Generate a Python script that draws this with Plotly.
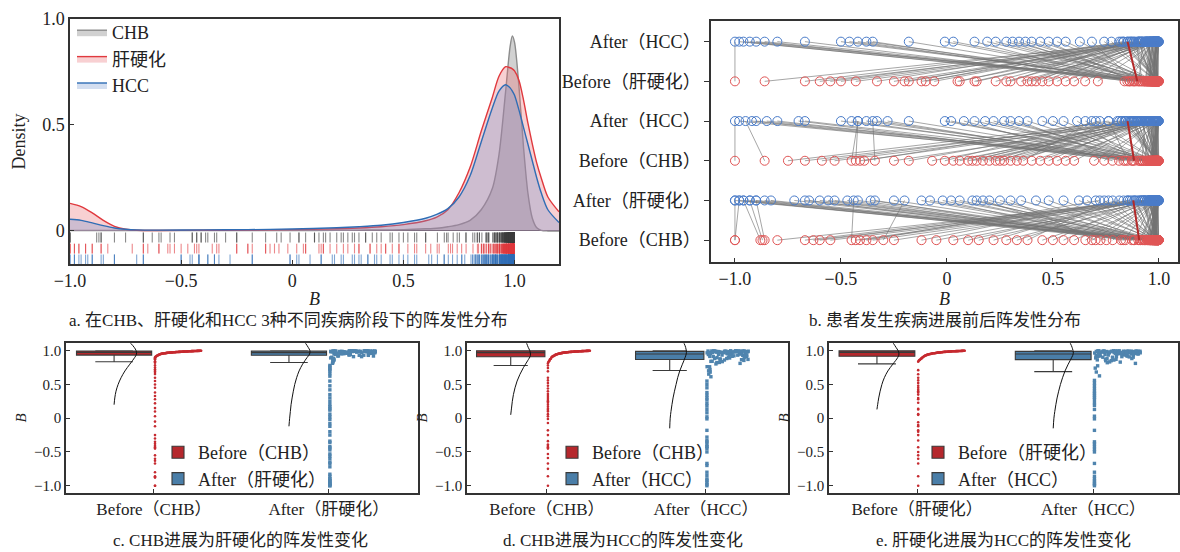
import plotly.graph_objects as go

FONT = "Liberation Serif, Noto Sans CJK SC, serif"

# ---------------- data ----------------
# panel a: density curves
dens_x = [-1.0, -0.95, -0.9, -0.85, -0.8, -0.75, -0.7, -0.6, -0.4, -0.2, 0.0, 0.2, 0.3, 0.4, 0.5,
          0.6, 0.65, 0.7, 0.75, 0.8, 0.85, 0.9, 0.93, 0.96, 0.98, 0.99, 1.0, 1.02, 1.04, 1.06,
          1.08, 1.1, 1.12, 1.15, 1.2]
dens_chb = [0.002, 0.002, 0.002, 0.002, 0.002, 0.002, 0.002, 0.002, 0.002, 0.002, 0.002, 0.003, 0.004,
            0.005, 0.006, 0.01, 0.013, 0.02, 0.03, 0.05, 0.1, 0.2, 0.36, 0.66, 0.87, 0.92, 0.89,
            0.68, 0.4, 0.18, 0.06, 0.015, 0.003, 0.0, 0.0]
dens_lc = [0.13, 0.115, 0.085, 0.05, 0.022, 0.008, 0.003, 0.002, 0.003, 0.004, 0.006, 0.01, 0.014,
           0.02, 0.03, 0.048, 0.065, 0.1, 0.18, 0.3, 0.47, 0.63, 0.73, 0.775, 0.77, 0.765, 0.755,
           0.71, 0.62, 0.51, 0.41, 0.32, 0.25, 0.16, 0.09]
dens_hcc = [0.055, 0.05, 0.038, 0.025, 0.014, 0.008, 0.005, 0.004, 0.005, 0.006, 0.009, 0.015, 0.02,
            0.027, 0.04, 0.06, 0.078, 0.105, 0.16, 0.26, 0.42, 0.58, 0.66, 0.69, 0.675, 0.66, 0.64,
            0.57, 0.49, 0.41, 0.33, 0.25, 0.18, 0.1, 0.04]
dens_names = ["CHB", "肝硬化", "HCC"]

# group 1: CHB -> 肝硬化 (paired)
g1_before = [
    -1.00, -1.00, -0.88, -0.87, -0.86, -0.80, -0.67, -0.63, -0.60, -0.55,
    -0.45, -0.43, -0.41, -0.38, -0.35, -0.30, -0.25, -0.12, -0.05, 0.03,
    0.10, 0.15, 0.22, 0.28, 0.33, 0.38, 0.45, 0.50, 0.55, 0.60,
    0.934, 0.972, 0.881, 0.991, 0.953, 0.912, 0.983, 0.962, 0.995, 0.842,
    0.975, 0.931, 0.988, 0.903, 0.966, 0.981, 0.872, 0.993, 0.944, 0.978,
    0.821, 0.996, 0.957, 0.986, 0.925, 0.752, 0.990, 0.969, 0.701, 0.984,
    0.948, 0.997, 0.977,
    0.991, 0.982, 0.999, 0.974, 0.993, 0.962, 0.986, 0.998, 0.989, 0.971,
    0.951, 0.994, 0.979, 0.936, 0.997, 0.988, 0.968, 0.984, 0.958, 0.992,
    0.921, 0.981, 0.999, 0.973, 0.990, 0.884, 0.983, 0.964, 0.996, 0.987,
    0.976, 0.944, 0.994, 0.980, 0.653, 0.998, 0.970, 0.991, 0.961, 0.985,
    0.782, 0.993, 0.972, 0.999, 0.978, 0.955, 0.989, 0.724, 0.982, 0.967,
    0.997, 0.990, 0.959, 0.986, 0.832, 0.995, 0.975, 0.998, 0.979, 0.992,
    0.684, 0.969, 0.988, 0.983, 0.911, 0.996, 0.963, 0.994, 0.981, 0.977]
g1_after = [
    -1.00, -0.98, -0.96, -0.93, -0.90, 0.952, 0.884, 0.973, 0.921, 0.991,
    -0.44, 0.862, 0.934, 0.721, 0.982, -0.20, 0.964, 0.813, 0.945, 0.993,
    0.903, 0.971, 0.853, 0.989, 0.931, 0.762, 0.984, 0.912, 0.956, 0.995,
    -1.00, -0.98, -0.96, -0.93, -0.90, -0.86, -0.83, -0.72, -0.67, -0.65,
    -0.60, -0.56, -0.53, -0.47, -0.42, -0.36, -0.34, -0.25, -0.12, -0.08,
    -0.02, 0.02, 0.06, 0.12, 0.14, 0.17, 0.20, 0.25, 0.30, 0.35,
    0.42, 0.48, 0.55,
    0.974, 0.993, 0.921, 0.998, 0.952, 0.983, 0.884, 0.991, 0.961, 0.997,
    0.989, 0.933, 0.972, 0.995, 0.851, 0.981, 0.999, 0.943, 0.990, 0.623,
    0.984, 0.962, 0.994, 0.893, 0.998, 0.971, 0.782, 0.992, 0.953, 0.986,
    0.997, 0.988, 0.702, 0.975, 0.964, 0.993, 0.924, 0.982, 0.999, 0.661,
    0.991, 0.958, 0.985, 0.912, 0.994, 0.998, 0.973, 0.990, 0.833, 0.979,
    0.951, 0.993, 0.997, 0.968, 0.983, 0.742, 0.992, 0.963, 0.999, 0.981,
    0.990, 0.932, 0.976, 0.996, 0.987, 0.994, 0.872, 0.961, 0.989, 0.978]

# group 2: CHB -> HCC (paired)
g2_before = [
    -1.00, -0.86, -0.75, -0.67, -0.59, -0.53, -0.45, -0.43, -0.41, -0.39,
    -0.34, -0.25, -0.18, -0.07, -0.01, 0.03, 0.06, 0.10, 0.12, 0.14,
    0.17, 0.20, 0.23, 0.25, 0.27, 0.30, 0.33, 0.36, 0.40, 0.44,
    0.48, 0.52, 0.56, 0.60,
    0.952, 0.884, 0.971, 0.993, 0.921, 0.842, 0.964, 0.982, 0.903, 0.991,
    0.943, 0.872, 0.975, 0.994, 0.932, 0.781, 0.986, 0.961, 0.912, 0.997,
    0.954, 0.833, 0.973, 0.989, 0.924, 0.981,
    0.992, 0.981, 0.998, 0.964, 0.987, 0.953, 0.995, 0.976, 0.990, 0.942,
    0.983, 0.997, 0.969, 0.988, 0.921, 0.994, 0.979, 0.999, 0.958, 0.985,
    0.876, 0.991, 0.973, 0.996, 0.947, 0.982, 0.989, 0.812, 0.993, 0.967,
    0.998, 0.978, 0.986, 0.934, 0.995, 0.971, 0.742, 0.990, 0.984, 0.962,
    0.997, 0.975, 0.853, 0.992, 0.980, 0.999, 0.956, 0.987, 0.694, 0.994,
    0.968, 0.983, 0.996, 0.911, 0.989, 0.977, 0.998, 0.944, 0.991, 0.985]
g2_after = [
    -1.00, -0.95, 0.823, 0.931, 0.884, 0.972, -0.42, -0.42, 0.913, 0.762,
    -0.35, 0.991, 0.862, 0.944, 0.721, 0.983, 0.902, 0.954, 0.843, 0.995,
    0.935, 0.871, 0.976, 0.804, 0.962, 0.989, 0.915, 0.683, 0.982, 0.943,
    0.892, 0.994, 0.951, 0.973,
    -0.98, -0.92, -0.90, -0.85, -0.80, -0.70, -0.67, -0.50, -0.45, -0.38,
    -0.33, -0.28, -0.18, -0.01, 0.02, 0.08, 0.13, 0.18, 0.22, 0.27,
    0.30, 0.34, 0.38, 0.45, 0.50, 0.55,
    0.962, 0.991, 0.873, 0.984, 0.947, 0.998, 0.812, 0.973, 0.995, 0.924,
    0.988, 0.856, 0.979, 0.996, 0.934, 0.702, 0.982, 0.951, 0.993, 0.867,
    0.990, 0.941, 0.999, 0.826, 0.975, 0.987, 0.914, 0.994, 0.653, 0.968,
    0.982, 0.897, 0.997, 0.958, 0.842, 0.989, 0.976, 0.931, 0.999, 0.884,
    0.954, 0.992, 0.763, 0.981, 0.945, 0.996, 0.902, 0.972, 0.986, 0.838,
    0.993, 0.917, 0.978, 0.614, 0.988, 0.961, 0.995, 0.879, 0.983, 0.937]

# group 3: 肝硬化 -> HCC (paired)
g3_before = [
    -1.00, -0.86, -0.67, -0.60, -0.55, -0.50, -0.43, -0.33, -0.25, -0.20,
    -0.18, -0.12, -0.10, -0.06, 0.05, 0.06, 0.13, 0.14, 0.23, 0.28,
    0.30, 0.35, 0.38, 0.40, 0.42, 0.45, 0.48, 0.52, 0.56, 0.60,
    0.934, 0.882, 0.971, 0.992, 0.913, 0.953, 0.862, 0.983, 0.962, 0.921,
    0.994, 0.893, 0.974, 0.942, 0.991, 0.851, 0.965, 0.984, 0.931, 0.996,
    0.904, 0.972, 0.951, 0.993, 0.873, 0.981, 0.963,
    0.987, 0.972, 0.995, 0.958, 0.983, 0.991, 0.946, 0.998, 0.979, 0.963,
    0.993, 0.921, 0.986, 0.975, 0.999, 0.952, 0.989, 0.968, 0.884, 0.994,
    0.981, 0.997, 0.961, 0.838, 0.990, 0.977, 0.996, 0.943, 0.985, 0.992,
    0.712, 0.973, 0.998, 0.966, 0.988, 0.931, 0.995, 0.982, 0.906, 0.991,
    0.978, 0.999, 0.955, 0.986, 0.652, 0.993, 0.970, 0.997, 0.984, 0.939,
    0.990, 0.962, 0.994, 0.861, 0.988, 0.976, 0.999, 0.948, 0.992, 0.983]
g3_after = [
    -1.00, 0.943, 0.872, 0.981, 0.912, 0.963, 0.991, 0.834, 0.952, 0.974,
    0.903, 0.993, 0.861, 0.932, 0.984, 0.881, 0.962, 0.995, 0.921, 0.973,
    0.852, 0.992, 0.944, 0.983, 0.904, 0.961, 0.994, 0.933, 0.972, 0.953,
    -0.98, -0.96, -0.93, -0.90, -0.86, -0.80, -0.67, -0.50, -0.46, -0.42,
    -0.38, -0.35, -0.18, -0.01, 0.03, 0.13, 0.19, 0.23, 0.28, 0.31,
    0.34, 0.37, 0.40, 0.44, 0.48, 0.52, 0.56,
    0.943, 0.986, 0.872, 0.997, 0.921, 0.968, 0.993, 0.831, 0.979, 0.954,
    0.999, 0.893, 0.962, 0.988, 0.812, 0.975, 0.946, 0.994, 0.684, 0.983,
    0.912, 0.996, 0.957, 0.979, 0.864, 0.991, 0.935, 0.971, 0.998, 0.742,
    0.987, 0.903, 0.966, 0.993, 0.851, 0.978, 0.949, 0.999, 0.924, 0.982,
    0.627, 0.961, 0.995, 0.884, 0.973, 0.989, 0.938, 0.822, 0.997, 0.956,
    0.981, 0.908, 0.992, 0.969, 0.776, 0.986, 0.941, 0.998, 0.917, 0.975]

# panel b labels (bottom -> top) and group mean lines
pair_ticktext = ["Before（CHB）", "After（肝硬化）", "Before（CHB）", "After（HCC）",
                 "Before（肝硬化）", "After（HCC）"]
mean_before = [0.907, 0.883, 0.898]
mean_after = [0.879, 0.852, 0.852]

# panels c/d/e: box statistics [before, after]
c_q1, c_med, c_q3, c_lo, c_hi = [0.935, 0.932], [0.975, 0.972], [0.995, 0.993], [0.837, 0.825], [1.0, 1.0]
d_q1, d_med, d_q3, d_lo, d_hi = [0.910, 0.870], [0.972, 0.950], [0.998, 0.990], [0.780, 0.706], [1.0, 1.0]
e_q1, e_med, e_q3, e_lo, e_hi = [0.917, 0.868], [0.975, 0.950], [0.998, 0.990], [0.805, 0.690], [1.0, 1.0]

# half-violin outlines (value, half width)
c_vy_b = [0.20, 0.30, 0.40, 0.50, 0.60, 0.70, 0.80, 0.90, 0.95, 1.00, 1.05, 1.11]
c_vw_b = [0.0, 0.004, 0.011, 0.023, 0.040, 0.062, 0.090, 0.118, 0.128, 0.126, 0.115, 0.095]
c_vy_a = [-0.12, 0.0, 0.1, 0.2, 0.3, 0.4, 0.5, 0.6, 0.7, 0.8, 0.9, 0.95, 1.0, 1.05, 1.11]
c_vw_a = [0.0, 0.004, 0.008, 0.012, 0.018, 0.025, 0.033, 0.044, 0.058, 0.078, 0.104, 0.118, 0.12, 0.11, 0.095]
d_vy_b = [0.05, 0.15, 0.25, 0.35, 0.45, 0.55, 0.65, 0.75, 0.85, 0.93, 1.0, 1.05, 1.11]
d_vw_b = [0.0, 0.005, 0.010, 0.017, 0.027, 0.040, 0.058, 0.080, 0.106, 0.124, 0.12, 0.11, 0.10]
d_vy_a = [-0.15, 0.0, 0.1, 0.2, 0.3, 0.4, 0.5, 0.6, 0.7, 0.8, 0.9, 0.97, 1.05, 1.11]
d_vw_a = [0.0, 0.003, 0.008, 0.014, 0.021, 0.030, 0.040, 0.050, 0.063, 0.080, 0.097, 0.105, 0.10, 0.09]
e_vy_b = [0.13, 0.2, 0.3, 0.4, 0.5, 0.6, 0.7, 0.8, 0.9, 0.95, 1.0, 1.05, 1.11]
e_vw_b = [0.0, 0.004, 0.010, 0.018, 0.028, 0.042, 0.062, 0.090, 0.118, 0.125, 0.12, 0.108, 0.093]
e_vy_a = [-0.15, 0.0, 0.1, 0.2, 0.3, 0.4, 0.5, 0.6, 0.7, 0.8, 0.9, 0.96, 1.05, 1.11]
e_vw_a = [0.0, 0.004, 0.009, 0.015, 0.022, 0.031, 0.041, 0.053, 0.067, 0.085, 0.105, 0.114, 0.107, 0.097]

captions = ["a. 在CHB、肝硬化和HCC 3种不同疾病阶段下的阵发性分布",
            "b. 患者发生疾病进展前后阵发性分布",
            "c. CHB进展为肝硬化的阵发性变化",
            "d. CHB进展为HCC的阵发性变化",
            "e. 肝硬化进展为HCC的阵发性变化"]

# ---------------- styling ----------------
C_GRAY_LINE, C_GRAY_FILL = "#8c8c8c", "rgba(140,140,140,0.40)"
C_RED_LINE, C_RED_FILL = "#e0393e", "rgba(232,110,115,0.32)"
C_BLUE_LINE, C_BLUE_FILL = "#2f6db5", "rgba(110,145,205,0.30)"
C_BOX_RED, C_BOX_BLUE = "#b5282d", "#4a7ea8"
C_PT_RED, C_PT_BLUE = "#c62a30", "#4f84ae"

fig = go.Figure()

# ---- panel a: densities ----
for ys, nm, lc, fc in [(dens_chb, dens_names[0], C_GRAY_LINE, C_GRAY_FILL),
                       (dens_lc, dens_names[1], C_RED_LINE, C_RED_FILL),
                       (dens_hcc, dens_names[2], C_BLUE_LINE, C_BLUE_FILL)]:
    fig.add_trace(go.Scatter(x=dens_x, y=ys, mode="lines", name=nm, fill="tozeroy",
                             fillcolor=fc, line=dict(color=lc, width=1.4, shape="spline", smoothing=0.8),
                             xaxis="x", yaxis="y", legend="legend"))

# rug rows
rug_sets = [(g1_before + g2_before, "rgba(60,60,60,0.6)", -0.031),
            (g1_after + g3_before, "rgba(224,57,62,0.6)", -0.083),
            (g2_after + g3_after, "rgba(47,109,181,0.6)", -0.134)]
for vals, col, yrow in rug_sets:
    fig.add_trace(go.Scatter(x=vals, y=[yrow] * len(vals), mode="markers", showlegend=False,
                             marker=dict(symbol="line-ns", size=7, line=dict(width=1.1, color=col)),
                             xaxis="x", yaxis="y", hoverinfo="skip"))

# ---- panel b: paired lines ----
groups = [(g1_before, g1_after, 0, 1), (g2_before, g2_after, 2, 3), (g3_before, g3_after, 4, 5)]
for gi, (bv, av, rb, ra) in enumerate(groups):
    lx, ly = [], []
    for b, a in zip(bv, av):
        lx += [b, a, None]
        ly += [rb, ra, None]
    fig.add_trace(go.Scatter(x=lx, y=ly, mode="lines", showlegend=False, hoverinfo="skip",
                             line=dict(color="rgba(115,115,115,0.8)", width=0.8),
                             xaxis="x2", yaxis="y2"))
for gi, (bv, av, rb, ra) in enumerate(groups):
    fig.add_trace(go.Scatter(x=bv, y=[rb] * len(bv), mode="markers", showlegend=False,
                             marker=dict(symbol="circle-open", size=9, color="#e05555", line=dict(width=1)),
                             xaxis="x2", yaxis="y2"))
    fig.add_trace(go.Scatter(x=av, y=[ra] * len(av), mode="markers", showlegend=False,
                             marker=dict(symbol="circle-open", size=9, color="#4a7cc9", line=dict(width=1)),
                             xaxis="x2", yaxis="y2"))
    fig.add_trace(go.Scatter(x=[mean_before[gi], mean_after[gi]], y=[rb, ra], mode="lines",
                             showlegend=False, line=dict(color="#b22a2a", width=2),
                             xaxis="x2", yaxis="y2"))

# ---- panels c/d/e: raincloud ----
BOX_OFF, BOX_W, PT_W = -0.228, 0.43, 0.27


def sorted_xy(vals, cat, thr):
    ys = sorted(vals)
    n_hi = len([v for v in ys if v >= thr])
    xs, k = [], 0
    for v in ys:
        if v < thr:
            xs.append(cat + 0.006)
        else:
            xs.append(cat + 0.006 + (PT_W - 0.006) * k / max(n_hi - 1, 1))
            k += 1
    return xs, ys


def strip_xy(vals, cat, thr_hi, thr_lo):
    xs = []
    for i, v in enumerate(vals):
        j = (i * 0.6180339887) % 1.0
        if v >= thr_hi:
            xs.append(cat + 0.006 + (PT_W - 0.006) * j)
        elif v >= thr_lo:
            xs.append(cat + 0.006 + 0.03 * j)
        else:
            xs.append(cat + 0.006)
    return xs, list(vals)


panels = [
    ("x3", "y3", "legend2", g1_before, g1_after, ("Before（CHB）", "After（肝硬化）"),
     (c_q1, c_med, c_q3, c_lo, c_hi), (c_vy_b, c_vw_b, c_vy_a, c_vw_a), 0.90, (0.91, 0.81)),
    ("x4", "y4", "legend3", g2_before, g2_after, ("Before（CHB）", "After（HCC）"),
     (d_q1, d_med, d_q3, d_lo, d_hi), (d_vy_b, d_vw_b, d_vy_a, d_vw_a), 0.80, (0.80, 0.58)),
    ("x5", "y5", "legend4", g3_before, g3_after, ("Before（肝硬化）", "After（HCC）"),
     (e_q1, e_med, e_q3, e_lo, e_hi), (e_vy_b, e_vw_b, e_vy_a, e_vw_a), 0.80, (0.80, 0.58)),
]
for xa, ya, lg, bv, av, names, st, vio, red_thr, blue_thr in panels:
    q1, med, q3, lo, hi = st
    for k, (nm, col) in enumerate([(names[0], C_BOX_RED), (names[1], C_BOX_BLUE)]):
        fig.add_trace(go.Box(x=[k + BOX_OFF], q1=[q1[k]], median=[med[k]], q3=[q3[k]],
                             lowerfence=[lo[k]], upperfence=[hi[k]], name=nm, width=BOX_W,
                             whiskerwidth=0.5, boxpoints=False, fillcolor=col,
                             line=dict(color="#3a3a3a", width=1.1), xaxis=xa, yaxis=ya, legend=lg))
    vy_b, vw_b, vy_a, vw_a = vio
    for k, (vy, vw) in enumerate([(vy_b, vw_b), (vy_a, vw_a)]):
        fig.add_trace(go.Scatter(x=[k + BOX_OFF + w for w in vw], y=vy, mode="lines", showlegend=False,
                                 line=dict(color="#111", width=1, shape="spline"), xaxis=xa, yaxis=ya))
    sx, sy = sorted_xy(bv, 0, red_thr)
    fig.add_trace(go.Scatter(x=sx, y=sy, mode="markers", showlegend=False,
                             marker=dict(size=2.6, color=C_PT_RED), xaxis=xa, yaxis=ya))
    bx, by = strip_xy(av, 1, blue_thr[0], blue_thr[1])
    fig.add_trace(go.Scatter(x=bx, y=by, mode="markers", showlegend=False,
                             marker=dict(size=3.4, symbol="square", color=C_PT_BLUE), xaxis=xa, yaxis=ya))

# ---------------- layout ----------------
W, H = 1180, 552


def px_x(a, b):
    return [a / W, b / W]


def px_y(top, bottom):
    return [1 - bottom / H, 1 - top / H]


def axis(**kw):
    base = dict(showline=True, linecolor="#333", linewidth=1.5, mirror=True, showgrid=False,
                zeroline=False, ticks="inside", ticklen=4, tickcolor="#333", automargin=False,
                tickfont=dict(family=FONT, size=18, color="#222"))
    base.update(kw)
    return base


xt_vals = [-1, -0.5, 0, 0.5, 1]
xt_text = ["−1.0", "−0.5", "0", "0.5", "1.0"]
title_font = dict(family=FONT, size=18, color="#222")

layout = dict(
    width=W, height=H, margin=dict(l=0, r=0, t=0, b=0, autoexpand=False),
    paper_bgcolor="white", plot_bgcolor="white",
    font=dict(family=FONT, color="#222"),
    xaxis=axis(domain=px_x(70, 559), range=[-1.0, 1.2], anchor="y", tickvals=xt_vals, ticktext=xt_text,
               title=dict(text="<i>B</i>", font=title_font, standoff=2)),
    yaxis=axis(domain=px_y(19, 264), range=[-0.156, 1.0], anchor="x", tickvals=[0, 0.5, 1],
               ticktext=["0", "0.5", "1.0"], zeroline=True, zerolinecolor="#333", zerolinewidth=1.2,
               title=dict(text="Density", font=title_font, standoff=12)),
    xaxis2=axis(domain=px_x(711, 1178), range=[-1.113, 1.09], anchor="y2", tickvals=xt_vals,
                ticktext=xt_text, title=dict(text="<i>B</i>", font=title_font, standoff=2)),
    yaxis2=axis(domain=px_y(21, 262), range=[-0.55, 5.52], anchor="x2", tickvals=[0, 1, 2, 3, 4, 5],
                ticktext=pair_ticktext, ticks="outside", ticklen=5),
)
for i, (xl, xr, rng) in enumerate([(66, 418, [-0.503, 1.51]), (467, 788, [-0.503, 1.516]),
                                   (829, 1178, [-0.5, 1.48])]):
    n = i + 3
    pn = panels[i][5]
    layout[f"xaxis{n}"] = axis(domain=px_x(xl, xr), range=rng, anchor=f"y{n}", tickvals=[0, 1],
                               ticktext=list(pn), tickfont=dict(family=FONT, size=17, color="#222"))
    layout[f"yaxis{n}"] = axis(domain=px_y(343, 493), range=[-1.108, 1.114], anchor=f"x{n}",
                               tickvals=xt_vals, ticktext=xt_text,
                               tickfont=dict(family=FONT, size=15, color="#222"),
                               title=dict(text="<i>B</i>", font=dict(family=FONT, size=15, color="#222"),
                                          standoff=4))

leg_common = dict(bgcolor="rgba(0,0,0,0)", xanchor="left", yanchor="top", tracegroupgap=0,
                  font=dict(family=FONT, size=18, color="#222"))
layout["legend"] = dict(leg_common, x=72 / W, y=1 - 14 / H)
layout["legend2"] = dict(leg_common, x=158 / W, y=1 - 434 / H)
layout["legend3"] = dict(leg_common, x=552 / W, y=1 - 434 / H)
layout["legend4"] = dict(leg_common, x=918 / W, y=1 - 434 / H)

cap_pos = [(288, 320), (945, 320), (240, 540), (623, 540), (1003, 540)]
layout["annotations"] = [dict(text=t, x=cx / W, y=1 - cy / H, xref="paper", yref="paper",
                              xanchor="center", yanchor="middle", showarrow=False,
                              font=dict(family=FONT, size=17, color="#222"))
                         for t, (cx, cy) in zip(captions, cap_pos)]

fig.update_layout(**layout)
fig.write_html("out.html", config={"displayModeBar": False},
               post_script="document.body.style.margin='0px';document.body.style.overflow='hidden';")
